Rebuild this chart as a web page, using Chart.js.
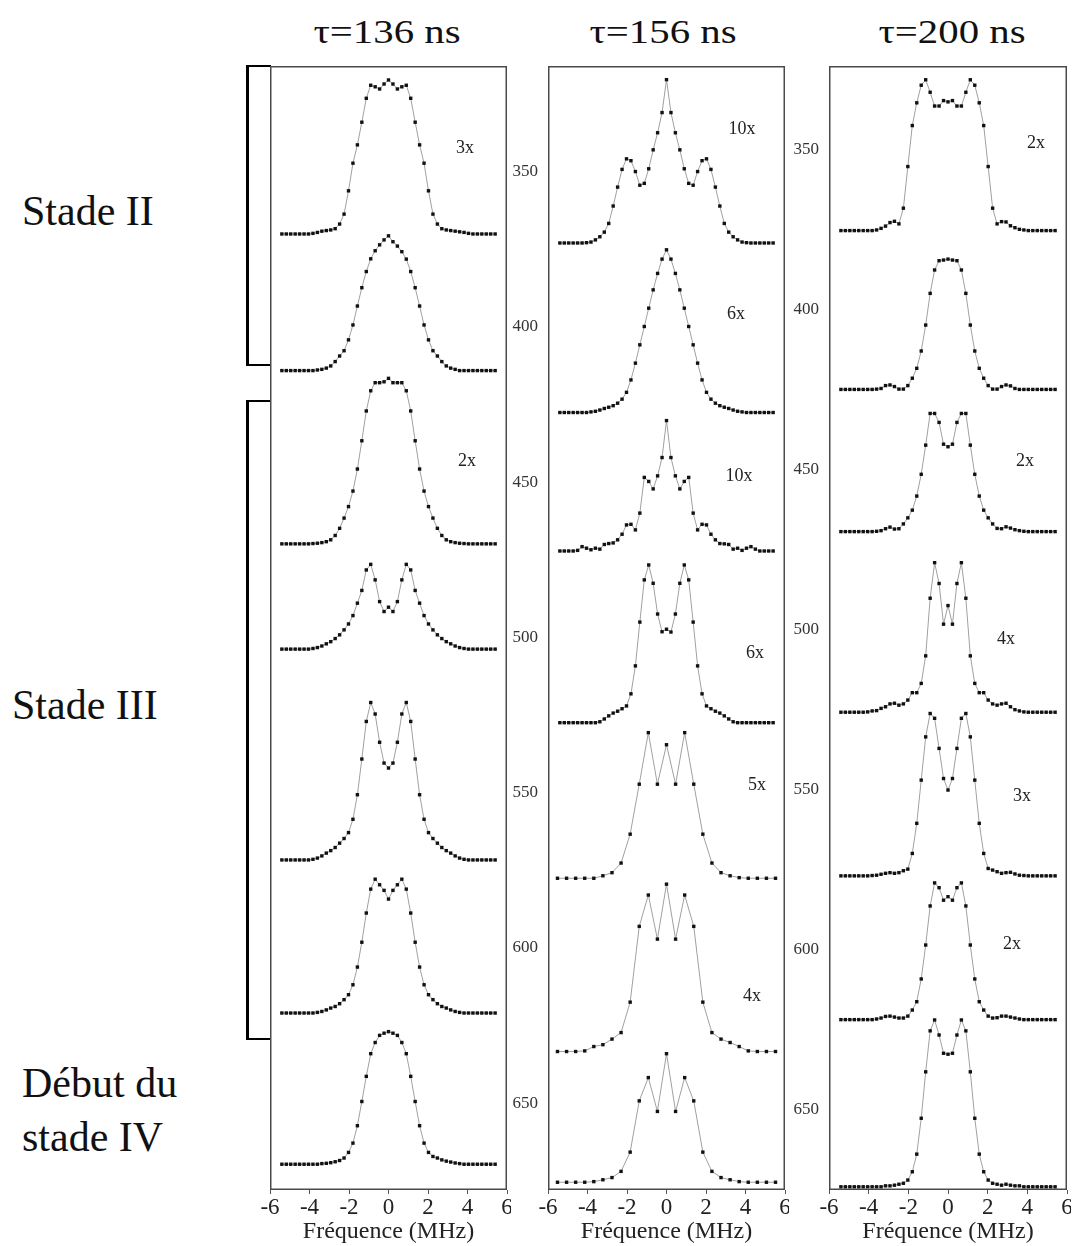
<!DOCTYPE html>
<html lang="fr">
<head>
<meta charset="utf-8">
<title>Spectres – τ=136 / 156 / 200 ns</title>
<script src="https://cdn.jsdelivr.net/npm/chart.js@4.4.1/dist/chart.umd.min.js"></script>
<style>
  html, body { margin: 0; padding: 0; background: #fff; }
  body { position: relative; width: 1076px; height: 1246px; overflow: hidden;
         font-family: "Liberation Serif", "DejaVu Serif", serif; color: #111; }
  canvas { position: absolute; }
  .title { position: absolute; width: 300px; text-align: center; font-size: 34px;
           line-height: 34px; transform: scaleX(1.2); white-space: nowrap; }
  .stage { position: absolute; font-size: 42px; line-height: 42px; white-space: nowrap; }
  .bracket { position: absolute; box-sizing: border-box; border-left: 3px solid #000;
             border-top: 2px solid #000; border-bottom: 2px solid #000; }
</style>
</head>
<body>

<div class="title" style="left:237px; top:15px;">τ=136 ns</div>
<div class="title" style="left:513px; top:15px;">τ=156 ns</div>
<div class="title" style="left:802px; top:15px;">τ=200 ns</div>

<div class="stage" style="left:22px; top:190px;">Stade II</div>
<div class="stage" style="left:12px; top:684px;">Stade III</div>
<div class="stage" style="left:22px; top:1062px;">Début du</div>
<div class="stage" style="left:22px; top:1116px;">stade IV</div>

<div class="bracket" style="left:246px; top:65px; width:25px; height:301px;"></div>
<div class="bracket" style="left:246px; top:400px; width:25px; height:640px;"></div>

<canvas id="c1" width="291" height="1184" style="left:220px; top:62px;"></canvas>
<canvas id="c2" width="291" height="1184" style="left:498px; top:62px;"></canvas>
<canvas id="c3" width="292" height="1184" style="left:779px; top:62px;"></canvas>

<script>
// ─────────────────────────────────────────────
// Données
// ─────────────────────────────────────────────

const SERIF = "'Liberation Serif', 'DejaVu Serif', serif";

// grilles de fréquence (MHz)
const FREQ_FINE = [-5.4, -5.175, -4.95, -4.725, -4.5, -4.275, -4.05, -3.825, -3.6, -3.375,
  -3.15, -2.925, -2.7, -2.475, -2.25, -2.025, -1.8, -1.575, -1.35, -1.125, -0.9, -0.675,
  -0.45, -0.225, 0, 0.225, 0.45, 0.675, 0.9, 1.125, 1.35, 1.575, 1.8, 2.025, 2.25, 2.475,
  2.7, 2.925, 3.15, 3.375, 3.6, 3.825, 4.05, 4.275, 4.5, 4.725, 4.95, 5.175, 5.4];
const FREQ_COARSE = [-5.52, -5.06, -4.6, -4.14, -3.68, -3.22, -2.76, -2.3, -1.84, -1.38,
  -0.92, -0.46, 0, 0.46, 0.92, 1.38, 1.84, 2.3, 2.76, 3.22, 3.68, 4.14, 4.6, 5.06, 5.52];

const X_TICKS = [-6, -4, -2, 0, 2, 4, 6];
const Y_TICKS = [350, 400, 450, 500, 550, 600, 650];

// τ = 136 ns
const P1_T1 = [370.1,370.1,370.1,370.1,370.1,370.1,370.1,369.9,369.6,369.2,369.0,368.8,368.4,366.9,363.7,356.2,347.3,341.4,334.1,326.4,322.2,322.7,323.4,321.8,320.5,321.8,323.4,322.7,322.2,326.4,334.1,341.4,347.3,356.2,363.7,366.9,368.4,368.8,369.0,369.2,369.4,369.6,369.9,370.1,370.1,370.1,370.1,370.1,370.1];
const P1_T2 = [414.1,414.1,414.1,414.1,414.1,414.1,414.1,414.1,413.9,413.7,413.3,412.6,411.2,409.4,407.7,404.2,399.4,393.3,387.4,382.2,378.1,375.5,373.6,372.0,370.7,372.6,374.0,375.8,378.2,382.2,387.4,393.3,399.4,404.2,407.7,409.4,411.2,412.6,413.3,413.7,414.1,414.1,414.1,414.1,414.1,414.1,414.1,414.1,414.1];
const P1_T3 = [469.9,469.9,469.9,469.9,469.9,469.9,469.9,469.8,469.7,469.5,469.2,468.6,467.2,464.9,461.6,457.9,452.9,445.8,436.7,427.1,420.6,418.0,418.0,417.7,416.6,418.0,418.0,418.0,420.6,427.1,436.7,445.8,452.9,457.9,461.6,464.9,467.2,468.6,469.2,469.5,469.7,469.8,469.9,469.9,469.9,469.9,469.9,469.9,469.9];
const P1_T4 = [503.8,503.8,503.8,503.8,503.8,503.8,503.8,503.6,503.3,502.8,502.1,501.4,500.4,499.2,497.6,495.7,493.0,489.0,484.9,478.3,476.5,481.5,488.5,491.7,490.3,491.7,488.5,481.5,476.5,478.3,484.9,489.0,493.0,495.7,497.6,499.2,500.4,501.4,502.1,502.8,503.3,503.6,503.8,503.8,503.8,503.8,503.8,503.8,503.8];
const P1_T5 = [571.7,571.7,571.7,571.7,571.7,571.7,571.7,571.5,571.1,570.4,569.5,568.7,567.7,566.3,564.8,562.9,558.6,550.7,539.2,527.1,521.0,524.7,533.8,540.5,542.1,540.5,533.8,524.7,521.0,527.1,539.2,550.7,558.6,562.9,564.8,566.3,567.7,568.7,569.5,570.4,571.1,571.5,571.7,571.7,571.7,571.7,571.7,571.7,571.7];
const P1_T6 = [621.0,621.0,621.0,621.0,621.0,621.0,621.0,621.0,620.8,620.5,620.0,619.4,618.9,618.0,616.7,615.1,611.9,606.2,598.2,588.8,581.1,577.9,579.7,581.5,584.3,581.5,579.7,577.9,581.1,588.8,598.2,606.2,611.9,615.1,616.7,618.0,618.9,619.4,620.0,620.5,620.8,621.0,621.0,621.0,621.0,621.0,621.0,621.0,621.0];
const P1_T7 = [669.7,669.7,669.7,669.7,669.7,669.7,669.7,669.7,669.7,669.5,669.4,669.2,668.9,668.5,667.7,665.9,662.9,657.3,649.5,641.4,634.1,630.5,628.2,627.5,627.0,627.5,628.2,630.5,634.1,641.4,649.5,657.3,662.9,665.9,667.2,667.7,668.3,668.7,669.0,669.3,669.5,669.7,669.7,669.7,669.7,669.7,669.7,669.7,669.7];

// τ = 156 ns
const P2_T1 = [373.0,373.0,373.0,373.0,373.0,373.0,372.9,372.7,372.0,371.0,369.5,366.7,361.1,355.0,349.3,345.9,346.5,350.0,354.4,353.8,349.1,343.0,337.5,331.0,320.4,331.0,337.5,343.0,349.1,353.8,354.4,350.0,346.5,345.9,349.3,355.0,361.1,366.7,369.5,371.0,372.0,372.7,372.9,373.0,373.0,373.0,373.0,373.0,373.0];
const P2_T2 = [427.6,427.6,427.6,427.6,427.6,427.6,427.6,427.4,427.2,426.8,426.3,425.9,425.4,424.6,423.3,421.1,417.1,411.7,405.8,399.9,394.0,388.1,382.8,378.2,375.2,378.2,382.8,388.1,394.0,399.9,405.8,411.7,417.1,421.1,423.3,424.6,425.4,425.9,426.3,426.8,427.2,427.4,427.6,427.6,427.6,427.6,427.6,427.6,427.6];
const P2_T3 = [472.2,472.2,472.2,472.2,472.0,470.8,471.3,471.8,471.3,471.6,470.1,469.8,469.6,468.6,466.8,463.8,463.6,465.4,460.0,448.5,449.8,452.2,448.0,442.1,430.2,442.1,448.0,452.2,449.8,448.5,460.0,465.4,463.6,463.8,466.8,468.6,469.8,469.9,470.1,471.6,471.3,472.0,471.3,470.8,471.6,472.2,472.2,472.2,472.2];
const P2_T4 = [527.5,527.5,527.5,527.5,527.5,527.5,527.5,527.5,527.5,527.2,526.3,525.3,524.4,523.8,523.0,522.1,518.2,509.2,495.1,481.5,476.7,482.6,492.5,498.2,497.4,498.3,492.5,482.6,476.7,481.5,495.1,509.2,518.2,522.1,523.0,523.8,524.4,525.3,526.3,527.2,527.5,527.5,527.5,527.5,527.5,527.5,527.5,527.5,527.5];
const P2_T5 = [577.6,577.6,577.6,577.6,577.6,576.8,575.8,572.7,563.4,547.3,530.7,547.3,534.6,547.3,530.7,547.3,563.4,572.7,575.8,576.8,577.4,577.6,577.6,577.6,577.6];
const P2_T6 = [633.4,633.4,633.4,633.2,631.8,631.2,629.4,627.3,617.5,593.1,583.0,597.2,579.5,597.2,583.0,593.1,617.5,627.3,629.4,630.5,631.8,633.2,633.4,633.4,633.4];
const P2_T7 = [675.5,675.5,675.5,675.5,675.3,674.7,674.0,672.0,665.8,649.3,641.8,652.7,634.1,652.7,641.8,649.3,665.8,672.0,674.0,674.7,675.3,675.5,675.5,675.5,675.5];

// τ = 200 ns
const P3_T1 = [375.4,375.4,375.4,375.4,375.4,375.4,375.4,375.4,375.2,374.7,374.0,372.9,372.5,373.3,368.4,355.4,342.6,335.5,330.0,328.3,332.2,336.5,336.5,334.8,335.2,334.8,336.5,336.5,332.2,328.3,330.0,335.5,342.6,355.4,368.4,373.3,372.6,372.7,373.9,374.5,375.0,375.2,375.4,375.4,375.4,375.4,375.4,375.4,375.4];
const P3_T2 = [425.0,425.0,425.0,425.0,425.0,425.0,425.0,425.0,424.9,424.7,423.8,423.6,424.1,424.9,424.9,423.8,421.5,418.4,413.0,404.9,395.0,387.7,384.8,384.6,384.3,384.6,384.8,387.7,395.0,404.9,413.0,418.4,421.5,423.8,424.9,424.9,424.1,423.6,423.9,424.7,425.0,425.0,425.0,425.0,425.0,425.0,425.0,425.0,425.0];
const P3_T3 = [469.4,469.4,469.4,469.4,469.4,469.4,469.4,469.4,469.3,469.1,468.5,468.0,468.6,468.5,467.0,465.1,462.7,458.3,451.5,442.4,432.5,432.5,435.3,442.1,442.9,442.1,435.3,432.5,432.5,442.4,451.5,458.3,462.7,465.1,467.0,468.4,468.5,467.9,468.3,468.8,469.1,469.3,469.4,469.4,469.4,469.4,469.4,469.4,469.4];
const P3_T4 = [525.8,525.8,525.8,525.8,525.8,525.8,525.7,525.4,525.3,524.6,524.1,523.2,523.0,523.6,523.2,522.0,519.7,519.7,516.8,508.2,490.2,479.1,485.6,498.3,492.5,498.3,485.6,479.1,490.2,508.2,516.8,519.7,519.7,522.0,523.2,523.6,523.2,523.0,524.1,525.0,525.4,525.7,525.8,525.8,525.8,525.8,525.8,525.8,525.8];
const P3_T5 = [576.9,576.9,576.9,576.9,576.9,576.9,576.9,576.8,576.7,576.4,576.1,575.9,576.1,575.9,575.3,574.8,569.9,560.5,547.0,533.5,526.2,527.7,537.1,546.5,550.1,546.5,537.1,527.7,526.2,533.5,547.0,560.5,569.9,574.6,575.1,575.6,576.1,575.9,575.8,576.3,576.7,576.8,576.9,576.9,576.9,576.9,576.9,576.9,576.9];
const P3_T6 = [621.8,621.8,621.8,621.8,621.8,621.8,621.8,621.8,621.6,621.3,620.8,620.7,621.0,621.3,621.3,620.7,618.8,616.2,609.1,598.5,586.3,579.1,580.6,584.5,583.4,584.5,580.6,579.1,586.3,598.5,609.1,616.2,618.8,620.7,621.3,621.2,620.7,620.7,621.0,621.3,621.6,621.8,621.8,621.8,621.8,621.8,621.8,621.8,621.8];
const P3_T7 = [674.0,674.0,674.0,674.0,674.0,674.0,674.0,674.0,674.0,674.0,673.7,673.7,673.5,673.2,672.9,671.9,669.3,663.8,652.6,638.1,625.3,621.9,626.6,632.3,632.6,632.3,626.6,621.9,625.3,638.1,652.6,663.8,669.3,671.9,672.9,673.2,673.5,673.2,673.5,673.7,673.7,674.0,674.0,674.0,674.0,674.0,674.0,674.0,674.0];

// facteurs d'agrandissement
const P1_MAG = ["3x", "2x"];
const P2_MAG = ["10x", "6x", "10x", "6x", "5x", "4x"];
const P3_MAG = ["2x", "2x", "4x", "3x", "2x"];

// ancrage des étiquettes (MHz, unité de l'axe vertical)
const P1_MAG_AT = [[3.87, 342.4], [3.97, 443.2]];
const P2_MAG_AT = [[3.82, 336.3], [3.52, 395.9], [3.67, 448.0], [4.48, 505.0], [4.58, 547.8], [4.33, 615.5]];
const P3_MAG_AT = [[4.44, 348.0], [3.88, 447.4], [2.92, 503.0], [3.73, 552.0], [3.23, 598.2]];

// ─────────────────────────────────────────────
// Plugins
// ─────────────────────────────────────────────

const framePlugin = {
  id: "frame",
  afterDatasetsDraw(chart) {
    const { ctx, chartArea: a } = chart;
    ctx.save();
    ctx.strokeStyle = "#4a4a4a";
    ctx.lineWidth = 1.5;
    ctx.strokeRect(a.left + 0.75, a.top + 0.75, a.right - a.left - 1.5, a.bottom - a.top - 1.5);
    ctx.restore();
  }
};

const magPlugin = {
  id: "mag",
  afterDatasetsDraw(chart, args, opts) {
    const { ctx, scales } = chart;
    ctx.save();
    ctx.font = `18px ${SERIF}`;
    ctx.fillStyle = "#222";
    ctx.textAlign = "center";
    ctx.textBaseline = "middle";
    opts.labels.forEach((txt, k) => {
      const [fx, fy] = opts.at[k];
      ctx.fillText(txt, scales.x.getPixelForValue(fx), scales.y.getPixelForValue(fy));
    });
    ctx.restore();
  }
};

// ─────────────────────────────────────────────
// Construction
// ─────────────────────────────────────────────

function toPoints(freq, vals) {
  return vals.map((v, k) => ({ x: freq[k], y: v }));
}

function traceDataset(freq, vals) {
  return {
    data: toPoints(freq, vals),
    borderColor: "#a0a0a0",
    borderWidth: 1,
    pointStyle: "rect",
    pointRadius: 2.4,
    pointBackgroundColor: "#111",
    pointBorderWidth: 0,
    tension: 0,
  };
}

// pas de marge automatique pour les étiquettes qui débordent : le cadre reste fixe
function fixX(ax) {
  ax.height = 56;
  ax.paddingLeft = 0;
  ax.paddingRight = 0;
}

function fixY(ax) {
  ax.width = 50;
  ax.paddingTop = 0;
  ax.paddingBottom = 0;
}

function buildPanel(id, traces, yMin, yMax, showY, labels, at) {
  const ctx = document.getElementById(id).getContext("2d");
  return new Chart(ctx, {
    type: "line",
    data: { datasets: traces.map(([f, v]) => traceDataset(f, v)) },
    options: {
      responsive: false,
      animation: false,
      devicePixelRatio: 1,
      layout: { padding: { top: 4, right: 4, left: 0, bottom: 0 } },
      plugins: {
        legend: { display: false },
        tooltip: { enabled: false },
        mag: { labels, at },
      },
      scales: {
        x: {
          type: "linear", min: -6, max: 6,
          afterBuildTicks: ax => { ax.ticks = X_TICKS.map(v => ({ value: v })); },
          afterFit: fixX,
          ticks: { font: { family: SERIF, size: 23 }, color: "#222", padding: 0 },
          grid: { drawOnChartArea: false, tickLength: 4, color: "#555" },
          border: { display: false },
          title: { display: true, text: "Fréquence (MHz)", color: "#222",
                   font: { family: SERIF, size: 24 }, padding: 0 },
        },
        y: {
          type: "linear", reverse: true, min: yMin, max: yMax,
          afterBuildTicks: ax => { ax.ticks = Y_TICKS.map(v => ({ value: v })); },
          afterFit: fixY,
          ticks: { display: showY, font: { family: SERIF, size: 17 }, color: "#333", padding: 10 },
          grid: { display: false, drawTicks: false },
          border: { display: false },
        },
      },
    },
    plugins: [framePlugin, magPlugin],
  });
}

buildPanel("c1", [
  [FREQ_FINE, P1_T1], [FREQ_FINE, P1_T2], [FREQ_FINE, P1_T3], [FREQ_FINE, P1_T4],
  [FREQ_FINE, P1_T5], [FREQ_FINE, P1_T6], [FREQ_FINE, P1_T7],
], 316, 678, false, P1_MAG, P1_MAG_AT);

buildPanel("c2", [
  [FREQ_FINE, P2_T1], [FREQ_FINE, P2_T2], [FREQ_FINE, P2_T3], [FREQ_FINE, P2_T4],
  [FREQ_COARSE, P2_T5], [FREQ_COARSE, P2_T6], [FREQ_COARSE, P2_T7],
], 316, 678, true, P2_MAG, P2_MAG_AT);

buildPanel("c3", [
  [FREQ_FINE, P3_T1], [FREQ_FINE, P3_T2], [FREQ_FINE, P3_T3], [FREQ_FINE, P3_T4],
  [FREQ_FINE, P3_T5], [FREQ_FINE, P3_T6], [FREQ_FINE, P3_T7],
], 324, 675, true, P3_MAG, P3_MAG_AT);
</script>
</body>
</html>
